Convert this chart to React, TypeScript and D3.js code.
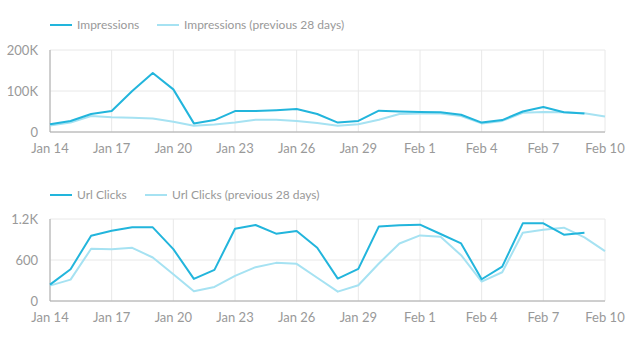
import React from "react";
import * as d3 from "d3";

const tickLabels = ["Jan 14", "Jan 17", "Jan 20", "Jan 23", "Jan 26", "Jan 29", "Feb 1", "Feb 4", "Feb 7", "Feb 10"];

const impressions = [19, 27, 44, 51, 100, 144, 104, 21, 29, 51, 51, 53, 56, 44, 23, 27, 52, 50, 49, 48, 42, 23, 29, 50, 61, 48, 45].map(v => v * 1000);
const impressionsPrev = [16, 23, 39, 36, 35, 33, 25, 15, 18, 23, 30, 30, 27, 22, 15, 19, 30, 44, 45, 45, 39, 21, 27, 47, 49, 48, 46, 38].map(v => v * 1000);

const clicks = [240, 465, 955, 1029, 1078, 1078, 759, 323, 455, 1058, 1112, 985, 1024, 780, 328, 470, 1092, 1107, 1117, 980, 842, 318, 504, 1136, 1136, 970, 999];
const clicksPrev = [225, 313, 764, 759, 778, 637, 392, 142, 206, 367, 495, 558, 544, 340, 137, 230, 549, 842, 960, 940, 671, 284, 421, 999, 1043, 1073, 931, 730];

const DARK = "#22b5dc";
const LIGHT = "#a6e2f2";
const FONT = "Lato, sans-serif";

const x = d3.scaleLinear().domain([0, 27]).range([50, 605]);

function Panel({ top, yMax, yTicks, yFmt, cur, prev, legend, legendY }: any) {
  const y = d3.scaleLinear().domain([0, yMax]).range([top + 82, top]);
  const line = d3.line<number>().x((_, i) => x(i)).y(d => y(d));
  const bottom = y(0);
  const xTicks = d3.range(0, 28, 3);
  return (
    <g>
      <g fontFamily={FONT} fontSize={12} fill="#999">
        <line x1={50} x2={72} y1={legendY} y2={legendY} stroke={DARK} strokeWidth={2} />
        <text x={77} y={legendY} dy="0.35em">{legend[0]}</text>
        <line x1={legend[2]} x2={legend[2] + 22} y1={legendY} y2={legendY} stroke={LIGHT} strokeWidth={2} />
        <text x={legend[2] + 27} y={legendY} dy="0.35em">{legend[1]}</text>
      </g>
      {yTicks.map((t: number) => (
        <line key={"g" + t} x1={50} x2={605} y1={y(t)} y2={y(t)} stroke="#e8e8e8" strokeWidth={1} />
      ))}
      {xTicks.map((t: number) => (
        <line key={"v" + t} x1={x(t)} x2={x(t)} y1={top} y2={bottom} stroke="#e8e8e8" strokeWidth={1} />
      ))}
      <line x1={50} x2={50} y1={top} y2={bottom} stroke="#aaa" strokeWidth={1} />
      <line x1={50} x2={605} y1={bottom} y2={bottom} stroke="#aaa" strokeWidth={1} />
      <g fontFamily={FONT} fontSize={13} fill="#999">
        {yTicks.map((t: number) => (
          <text key={"yt" + t} x={38} y={y(t)} dy="0.35em" textAnchor="end">{yFmt(t)}</text>
        ))}
        {xTicks.map((t: number, i: number) => (
          <text key={"xt" + t} x={x(t)} y={bottom + 16} dy="0.35em" textAnchor="middle">{tickLabels[i]}</text>
        ))}
      </g>
      <path d={line(prev) || ""} fill="none" stroke={LIGHT} strokeWidth={2} strokeLinejoin="round" />
      <path d={line(cur) || ""} fill="none" stroke={DARK} strokeWidth={2} strokeLinejoin="round" />
    </g>
  );
}

export default function App() {
  return (
    <svg width={640} height={360} style={{ position: "absolute", left: 0, top: 0, background: "#fff" }}>
      <Panel
        top={50}
        yMax={200000}
        yTicks={[0, 100000, 200000]}
        yFmt={(t: number) => (t === 0 ? "0" : t / 1000 + "K")}
        cur={impressions}
        prev={impressionsPrev}
        legend={["Impressions", "Impressions (previous 28 days)", 157]}
        legendY={25}
      />
      <Panel
        top={219}
        yMax={1200}
        yTicks={[0, 600, 1200]}
        yFmt={(t: number) => (t === 1200 ? "1.2K" : String(t))}
        cur={clicks}
        prev={clicksPrev}
        legend={["Url Clicks", "Url Clicks (previous 28 days)", 145]}
        legendY={195}
      />
    </svg>
  );
}
